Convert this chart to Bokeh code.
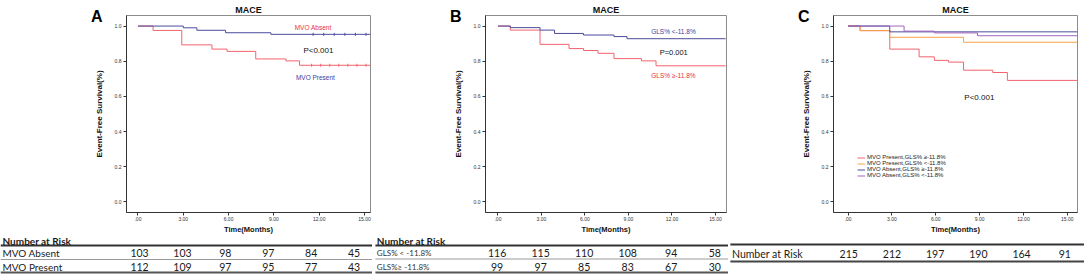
import math
from bokeh.plotting import figure
from bokeh.layouts import row, column
from bokeh.models import Range1d, FixedTicker, Label, Legend, LegendItem, LinearAxis
from bokeh.embed import file_html
from bokeh.resources import INLINE
from bokeh.core.properties import value

# ---------------- data ----------------
time_ticks = [0, 3, 6, 9, 12, 15]
time_tick_labels = [".00", "3.00", "6.00", "9.00", "12.00", "15.00"]
surv_ticks = [0.0, 0.2, 0.4, 0.6, 0.8, 1.0]
surv_tick_labels = ["0.0", "0.2", "0.4", "0.6", "0.8", "1.0"]

# Panel A (MVO)
a_absent_time = [0.0, 3.0, 3.9, 5.8, 8.8, 15.4]
a_absent_surv = [1.000, 0.990, 0.976, 0.962, 0.953, 0.953]
a_present_time = [0.0, 1.0, 2.9, 4.9, 5.9, 7.8, 9.8, 10.7, 15.4]
a_present_surv = [1.000, 0.975, 0.893, 0.869, 0.856, 0.813, 0.802, 0.777, 0.777]
a_absent_censor = [11.6, 12.3, 13.0, 13.7, 14.4, 15.1]
a_present_censor = [11.5, 12.1, 12.7, 13.3, 13.9, 14.5, 15.1]

# Panel B (GLS)
b_lt_time = [0.0, 0.85, 2.9, 3.9, 5.9, 8.0, 8.9, 15.7]
b_lt_surv = [1.000, 0.991, 0.977, 0.958, 0.949, 0.940, 0.928, 0.928]
b_ge_time = [0.0, 0.85, 2.9, 4.9, 5.9, 6.9, 8.0, 9.9, 10.9, 15.7]
b_ge_surv = [1.000, 0.977, 0.896, 0.872, 0.861, 0.845, 0.815, 0.802, 0.774, 0.774]

# Panel C (MVO x GLS)
c_pres_ge_time = [0.0, 0.82, 2.85, 4.86, 5.9, 6.87, 7.9, 9.9, 10.9, 15.7]
c_pres_ge_surv = [1.000, 0.974, 0.869, 0.825, 0.805, 0.795, 0.749, 0.736, 0.691, 0.691]
c_pres_lt_time = [0.0, 0.82, 2.85, 7.9, 15.7]
c_pres_lt_surv = [1.000, 0.974, 0.936, 0.908, 0.908]
c_abs_ge_time = [0.0, 2.85, 15.7]
c_abs_ge_surv = [1.000, 0.967, 0.967]
c_abs_lt_time = [0.0, 3.83, 5.9, 8.86, 15.7]
c_abs_lt_surv = [1.000, 0.971, 0.961, 0.945, 0.945]

# Numbers at risk
risk_times = [0, 3, 6, 9, 12, 15]
a_risk_absent = [103, 103, 98, 97, 84, 45]
a_risk_present = [112, 109, 97, 95, 77, 43]
b_risk_lt = [116, 115, 110, 108, 94, 58]
b_risk_ge = [99, 97, 85, 83, 67, 30]
c_risk_total = [215, 212, 197, 190, 164, 91]

a_groups = ["MVO Absent", "MVO Present"]
b_groups = ["GLS% < -11.8%", "GLS%\u2265 -11.8%"]
b_curve_labels = ["GLS% <-11.8%", "GLS% \u2265-11.8%"]
c_groups = ["MVO Present,GLS% \u2265-11.8%", "MVO Present,GLS% <-11.8%",
            "MVO Absent,GLS% \u2265-11.8%", "MVO Absent,GLS% <-11.8%"]
panel_letters = ["A", "B", "C"]
title_text = "MACE"
risk_header = "Number at Risk"

# ---------------- style ----------------
RED = "#F4636E"
BLUE = "#4B4B9C"
ORANGE = "#F7A548"
PURPLE = "#A064C0"
TXT_RED = "#E8323A"
TXT_BLUE = "#3E3E9E"
CHART_FONT = "Liberation Sans"
TABLE_FONT = "Lato"

FIG_H = 236
BT, BB = 15, 20
YR = (-0.06, 1.06)
TAB_H = 41


def km_figure(width, bl, br, xr, letter):
    p = figure(width=width, height=FIG_H, x_range=Range1d(*xr), y_range=Range1d(*YR),
               output_backend="svg", toolbar_location=None, title=title_text,
               min_border_left=bl, min_border_right=br,
               min_border_top=BT, min_border_bottom=BB)
    p.title.align = "center"
    p.title.text_font = CHART_FONT
    p.title.text_font_size = "9px"
    p.title.text_font_style = "bold"
    p.title.text_color = "#111111"
    p.title.standoff = 1
    p.title.offset = 0
    p.grid.visible = False
    p.outline_line_color = "#8c8c8c"
    p.outline_line_width = 1
    p.border_fill_color = "white"

    xa = p.xaxis[0]
    xa.ticker = FixedTicker(ticks=time_ticks)
    xa.major_label_overrides = dict(zip(time_ticks, time_tick_labels))
    xa.axis_label = "Time(Months)"
    ya = p.yaxis[0]
    ya.ticker = FixedTicker(ticks=surv_ticks)
    ya.major_label_overrides = dict(zip(surv_ticks, surv_tick_labels))
    ya.axis_label = "Event-Free Survival(%)"
    for ax in (xa, ya):
        ax.minor_tick_line_color = None
        ax.major_tick_out = 3
        ax.major_tick_in = 0
        ax.major_label_standoff = 1
        ax.axis_line_color = "#333333"
        ax.major_tick_line_color = "#333333"
        ax.major_label_text_font = CHART_FONT
        ax.major_label_text_font_size = "5px"
        ax.major_label_text_color = "#333333"
        ax.axis_label_text_font = CHART_FONT
        ax.axis_label_text_font_size = "8px"
        ax.axis_label_text_font_style = "bold"
        ax.axis_label_text_color = "#111111"
    xa.axis_label_standoff = 1
    xa.axis_label_text_font_size = "7.5px"
    ya.major_label_standoff = 2
    ya.axis_label_standoff = 8

    # panel letter, carried by an extra (otherwise blank) left axis at the top of the frame
    top_tick = YR[1] - 0.004
    lax = LinearAxis(ticker=FixedTicker(ticks=[top_tick]),
                     major_label_overrides={top_tick: letter},
                     axis_line_color=None, major_tick_line_color=None,
                     minor_tick_line_color=None, major_tick_out=0, major_tick_in=0,
                     major_label_standoff=-11, major_label_text_font=CHART_FONT,
                     major_label_text_font_size="16px", major_label_text_font_style="bold",
                     major_label_text_color="#000000")
    p.add_layout(lax, "left")
    return p


def add_note(p, x, y, text, color, size):
    p.add_layout(Label(x=x, y=y, text=text, text_align="center", text_baseline="middle",
                       text_font=CHART_FONT, text_font_size=size, text_color=color))


def table_figure(width, xr, yr):
    t = figure(width=width, height=TAB_H, x_range=Range1d(*xr), y_range=Range1d(*yr),
               output_backend="svg", toolbar_location=None,
               x_axis_location=None, y_axis_location=None, min_border=0)
    t.grid.visible = False
    t.outline_line_color = None
    t.border_fill_color = "white"
    return t


def table_text(t, xs, ys, texts, size, align="center", style="normal", color="#1a1a1a"):
    t.text(x=xs, y=ys, text=texts, text_font=value(TABLE_FONT), text_font_size=size,
           text_align=align, text_baseline="middle", text_color=color,
           text_font_style=style)


TAB_YR = (2.870, -0.167)     # rows: header 0, groups 1 and 2; rules at 0.5, 1.5, 2.5
HDR_Y, ROW1_Y, ROW2_Y = 0.13, 1.07, 2.07

# ---------------- Panel A ----------------
A_W, A_BL, A_BR = 372, 126, 2
A_XR = (-0.76, 15.40)
pa = km_figure(A_W, A_BL, A_BR, A_XR, panel_letters[0])
pa.step(a_present_time, a_present_surv, mode="after", line_color=RED, line_width=1)
pa.step(a_absent_time, a_absent_surv, mode="after", line_color=BLUE, line_width=1)
pa.scatter(a_absent_censor, [a_absent_surv[-1]] * len(a_absent_censor), marker="dash",
           angle=math.pi / 2, size=3, line_color=BLUE)
pa.scatter(a_present_censor, [a_present_surv[-1]] * len(a_present_censor), marker="dash",
           angle=math.pi / 2, size=3, line_color=RED)
add_note(pa, 11.6, 0.99, a_groups[0], TXT_RED, "6.5px")
add_note(pa, 11.95, 0.86, "P<0.001", "#111111", "8px")
add_note(pa, 11.75, 0.71, a_groups[1], TXT_BLUE, "6.5px")

ta = table_figure(A_W, (-9.72, 16.29), TAB_YR)
ta.hspan(y=[0.5], line_color="#333333", line_width=2)
ta.hspan(y=[1.5], line_color="#9a9a9a", line_width=1)
ta.hspan(y=[2.5], line_color="#555555", line_width=2)
table_text(ta, [-9.58], [HDR_Y], [risk_header], "10px", "left", "bold")
table_text(ta, [-9.58, -9.58], [ROW1_Y, ROW2_Y], a_groups, "10px", "left")
table_text(ta, risk_times, [ROW1_Y] * 6, [str(v) for v in a_risk_absent], "10.5px")
table_text(ta, risk_times, [ROW2_Y] * 6, [str(v) for v in a_risk_present], "10.5px")

# ---------------- Panel B ----------------
B_W, B_BL, B_BR = 356, 113, 2
B_XR = (-0.86, 15.76)
pb = km_figure(B_W, B_BL, B_BR, B_XR, panel_letters[1])
pb.step(b_ge_time, b_ge_surv, mode="after", line_color=RED, line_width=1)
pb.step(b_lt_time, b_lt_surv, mode="after", line_color=BLUE, line_width=1)
add_note(pb, 12.1, 0.97, b_curve_labels[0], TXT_BLUE, "6.5px")
add_note(pb, 12.12, 0.849, "P=0.001", "#111111", "7.5px")
add_note(pb, 12.1, 0.721, b_curve_labels[1], TXT_RED, "6.5px")

B_TXR = (-8.59, 15.95)
tb = table_figure(B_W, B_TXR, TAB_YR)
tb.segment(x0=[-8.39] * 3, x1=[B_TXR[1]] * 3, y0=[0.5, 1.5, 2.5], y1=[0.5, 1.5, 2.5],
           line_color=["#333333", "#9a9a9a", "#555555"], line_width=[2, 1, 2])
table_text(tb, [-8.29], [HDR_Y], [risk_header], "10px", "left", "bold")
table_text(tb, [-8.29, -8.29], [ROW1_Y, ROW2_Y], b_groups, "8px", "left", color="#333333")
table_text(tb, risk_times, [ROW1_Y] * 6, [str(v) for v in b_risk_lt], "10.5px")
table_text(tb, risk_times, [ROW2_Y] * 6, [str(v) for v in b_risk_ge], "10.5px")

# ---------------- Panel C ----------------
C_W, C_BL, C_BR = 356, 105, 7
C_XR = (-1.0, 15.70)
pc = km_figure(C_W, C_BL, C_BR, C_XR, panel_letters[2])
r1 = pc.step(c_pres_ge_time, c_pres_ge_surv, mode="after", line_color=RED, line_width=1)
r2 = pc.step(c_pres_lt_time, c_pres_lt_surv, mode="after", line_color=ORANGE, line_width=1)
r3 = pc.step(c_abs_ge_time, c_abs_ge_surv, mode="after", line_color=BLUE, line_width=1)
r4 = pc.step(c_abs_lt_time, c_abs_lt_surv, mode="after", line_color=PURPLE, line_width=1)
add_note(pc, 8.98, 0.593, "P<0.001", "#111111", "8px")
legend = Legend(items=[LegendItem(label=lab, renderers=[r]) for lab, r in zip(c_groups, [r1, r2, r3, r4])],
                location=(24, 34), label_text_font=CHART_FONT, label_text_font_size="6px",
                label_text_color="#222222", glyph_width=8, glyph_height=5, label_height=5,
                label_standoff=2, spacing=0, padding=0, margin=0,
                border_line_alpha=0, background_fill_alpha=0)
pc.add_layout(legend)

C_TXR = (-8.35, 16.37)
tc = table_figure(C_W, C_TXR, (2.441, 0.029))
tc.segment(x0=[-8.22] * 2, x1=[C_TXR[1]] * 2, y0=[0.5, 1.5], y1=[0.5, 1.5],
           line_color=["#333333", "#444444"], line_width=[2, 2])
table_text(tc, [-8.11], [1.03], [risk_header], "10.5px", "left")
table_text(tc, risk_times, [1.03] * 6, [str(v) for v in c_risk_total], "10.5px")

layout = column(row(pa, pb, pc), row(ta, tb, tc))
open("out.html", "w").write(file_html(layout, INLINE, "MACE Kaplan-Meier"))
